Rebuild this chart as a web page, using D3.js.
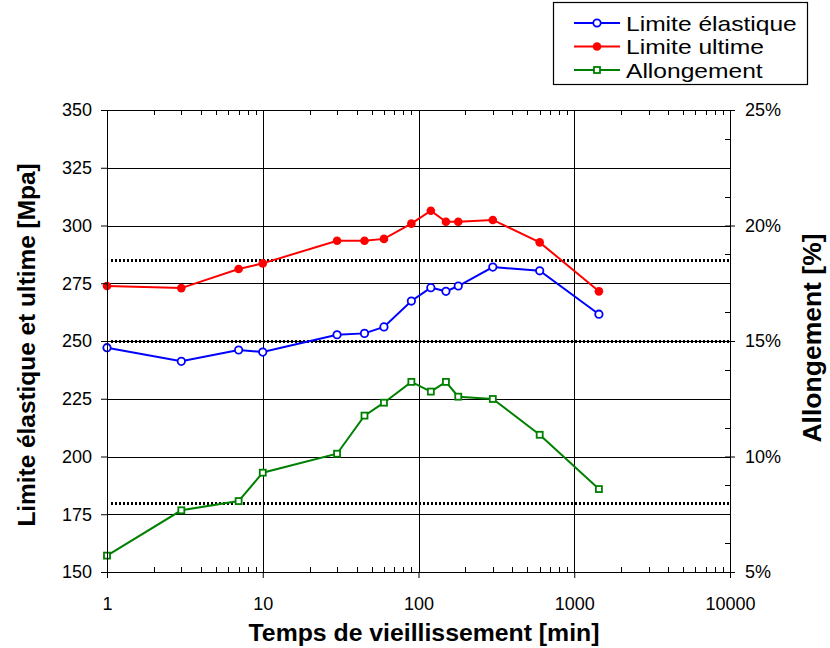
<!DOCTYPE html>
<html>
<head>
<meta charset="utf-8">
<script src="https://cdn.jsdelivr.net/npm/d3@7"></script>
<style>
  html, body { margin: 0; padding: 0; background: #fff; }
  svg { display: block; font-family: "Liberation Sans", Arial, sans-serif; }
</style>
</head>
<body>
<svg id="chart" width="830" height="648"></svg>
<script>
// Aging time (min) and measured properties
const times = [1, 3, 7, 10, 30, 45, 60, 90, 120, 150, 180, 300, 600, 1440];
const limiteElastique = [247.1, 241.2, 246.1, 245.2, 252.7, 253.3, 256.1, 267.3, 273.1, 271.5, 273.8, 282.0, 280.4, 261.6];
const limiteUltime = [273.8, 272.9, 281.2, 283.6, 293.4, 293.4, 294.2, 300.8, 306.4, 301.6, 301.6, 302.4, 292.7, 271.5];
const allongement = [5.71, 7.67, 8.07, 9.30, 10.12, 11.77, 12.33, 13.23, 12.81, 13.23, 12.59, 12.49, 10.94, 8.59];

// Reference (minimum) levels drawn as dotted lines
const referenceMpa = [285, 250];
const referencePct = [8];

// Axis ticks
const xTicks = [1, 10, 100, 1000, 10000];
const yLeftTicks = [150, 175, 200, 225, 250, 275, 300, 325, 350];
const yRightTicks = [5, 10, 15, 20, 25];
const yRightMinor = [6.25, 7.5, 8.75, 11.25, 12.5, 13.75, 16.25, 17.5, 18.75, 21.25, 22.5, 23.75];

const legendLabels = ["Limite élastique", "Limite ultime", "Allongement"];

const margin = { left: 107, top: 110, right: 100, bottom: 76 };
const W = 830, H = 648;
const pw = W - margin.left - margin.right; // 623
const ph = H - margin.top - margin.bottom; // 462

const svg = d3.select("#chart");
const g = svg.append("g").attr("transform", `translate(${margin.left},${margin.top})`);

const x = d3.scaleLog().domain([1, 10000]).range([0, pw]);
const yL = d3.scaleLinear().domain([150, 350]).range([ph, 0]);
const yR = d3.scaleLinear().domain([5, 25]).range([ph, 0]);

const crisp = v => Math.round(v) + 0.5;

// Grid lines
const grid = g.append("g").attr("stroke", "#000").attr("stroke-width", 1).attr("shape-rendering", "crispEdges");
grid.selectAll("line.h").data(yLeftTicks.slice(1, -1)).join("line")
  .attr("x1", 0).attr("x2", pw)
  .attr("y1", d => crisp(yL(d))).attr("y2", d => crisp(yL(d)));
grid.selectAll("line.v").data(xTicks.slice(1, -1)).join("line")
  .attr("y1", 0).attr("y2", ph)
  .attr("x1", d => crisp(x(d))).attr("x2", d => crisp(x(d)));

// Dotted reference lines
const refs = referenceMpa.map(v => yL(v)).concat(referencePct.map(v => yR(v)));
g.append("g").selectAll("line").data(refs).join("line")
  .attr("x1", 4).attr("x2", pw)
  .attr("y1", d => Math.round(d) + 0.5).attr("y2", d => Math.round(d) + 0.5)
  .attr("stroke", "#000").attr("stroke-width", 3)
  .attr("stroke-dasharray", "2,2")
  .attr("shape-rendering", "crispEdges");

// Minor ticks along the log axis (bottom pointing up, top pointing down)
const minor = [];
for (let dec = 1; dec < 10000; dec *= 10) for (let k = 2; k <= 9; k++) minor.push(dec * k);
const mt = g.append("g").attr("stroke", "#000").attr("stroke-width", 1).attr("shape-rendering", "crispEdges");
mt.selectAll("line.b").data(minor).join("line")
  .attr("x1", d => crisp(x(d))).attr("x2", d => crisp(x(d)))
  .attr("y1", ph).attr("y2", ph - 5);
mt.selectAll("line.t").data(minor).join("line")
  .attr("x1", d => crisp(x(d))).attr("x2", d => crisp(x(d)))
  .attr("y1", 0).attr("y2", 5);
// Right axis minor ticks (inside)
mt.selectAll("line.r").data(yRightMinor).join("line")
  .attr("x1", pw).attr("x2", pw - 5)
  .attr("y1", d => crisp(yR(d))).attr("y2", d => crisp(yR(d)));

// Series
const series = [
  { values: allongement, y: yR, color: "#008000", marker: "square" },
  { values: limiteElastique, y: yL, color: "#0000ff", marker: "open" },
  { values: limiteUltime, y: yL, color: "#ff0000", marker: "filled" }
];

function drawMarker(sel, s, px, py) {
  if (s.marker === "square") {
    sel.append("rect").attr("x", px - 3).attr("y", py - 3).attr("width", 6).attr("height", 6)
      .attr("fill", "#fff").attr("stroke", s.color).attr("stroke-width", 1.8);
  } else if (s.marker === "open") {
    sel.append("circle").attr("cx", px).attr("cy", py).attr("r", 3.7)
      .attr("fill", "#fff").attr("stroke", s.color).attr("stroke-width", 1.8);
  } else {
    sel.append("circle").attr("cx", px).attr("cy", py).attr("r", 4.3).attr("fill", s.color);
  }
}

series.forEach(s => {
  const pts = times.map((t, i) => [x(t), s.y(s.values[i])]);
  g.append("path").datum(pts)
    .attr("d", d3.line())
    .attr("fill", "none").attr("stroke", s.color).attr("stroke-width", 2);
  const mg = g.append("g");
  pts.forEach(p => drawMarker(mg, s, p[0], p[1]));
});

// Plot frame
g.append("rect").attr("x", 0.5).attr("y", 0.5).attr("width", pw).attr("height", ph)
  .attr("fill", "none").attr("stroke", "#000").attr("stroke-width", 1.2)
  .attr("shape-rendering", "crispEdges");

// Axes
function styleAxis(sel) {
  sel.select(".domain").remove();
  sel.selectAll(".tick line").attr("stroke", "#000").attr("stroke-width", 1);
  sel.selectAll(".tick text").attr("fill", "#000").attr("font-size", 18)
    .attr("font-family", "'Liberation Sans', Arial, sans-serif");
}

g.append("g")
  .call(d3.axisLeft(yL).tickValues(yLeftTicks).tickSize(6).tickPadding(9))
  .call(styleAxis);

const axR = g.append("g").attr("transform", `translate(${pw},0)`)
  .call(d3.axisRight(yR).tickValues(yRightTicks).tickFormat(d => d + "%").tickSize(5).tickPadding(10))
  .call(styleAxis);
axR.selectAll(".tick line").attr("x1", -5);

g.append("g").attr("transform", `translate(0,${ph})`)
  .call(d3.axisBottom(x).tickValues(xTicks).tickFormat(d3.format("d")).tickSize(6).tickPadding(19))
  .call(styleAxis);

// Axis titles
svg.append("text")
  .attr("x", 424).attr("y", 641)
  .attr("text-anchor", "middle").attr("font-size", 24.8).attr("font-weight", "bold")
  .text("Temps de vieillissement [min]");

svg.append("text")
  .attr("transform", `translate(35,345) rotate(-90)`)
  .attr("text-anchor", "middle").attr("font-size", 24.4).attr("font-weight", "bold")
  .text("Limite élastique et ultime [Mpa]");

svg.append("text")
  .attr("transform", `translate(821,338) rotate(-90)`)
  .attr("text-anchor", "middle").attr("font-size", 26.5).attr("font-weight", "bold")
  .text("Allongement [%]");

// Legend
const lg = svg.append("g").attr("transform", "translate(553,2)");
lg.append("rect").attr("x", 0.5).attr("y", 0.5).attr("width", 254).attr("height", 82)
  .attr("fill", "#fff").attr("stroke", "#000").attr("stroke-width", 1.2);
const legendSeries = [series[1], series[2], series[0]];
legendSeries.forEach((s, i) => {
  const cy = 21 + i * 23.5;
  const row = lg.append("g");
  row.append("line").attr("x1", 21).attr("x2", 67).attr("y1", cy).attr("y2", cy)
    .attr("stroke", s.color).attr("stroke-width", 2);
  drawMarker(row, s, 44, cy);
  row.append("text")
    .attr("transform", `translate(73,${cy + 7.5}) scale(1.2,1)`)
    .attr("font-size", 20.5).attr("fill", "#000").text(legendLabels[i]);
});
</script>
</body>
</html>
